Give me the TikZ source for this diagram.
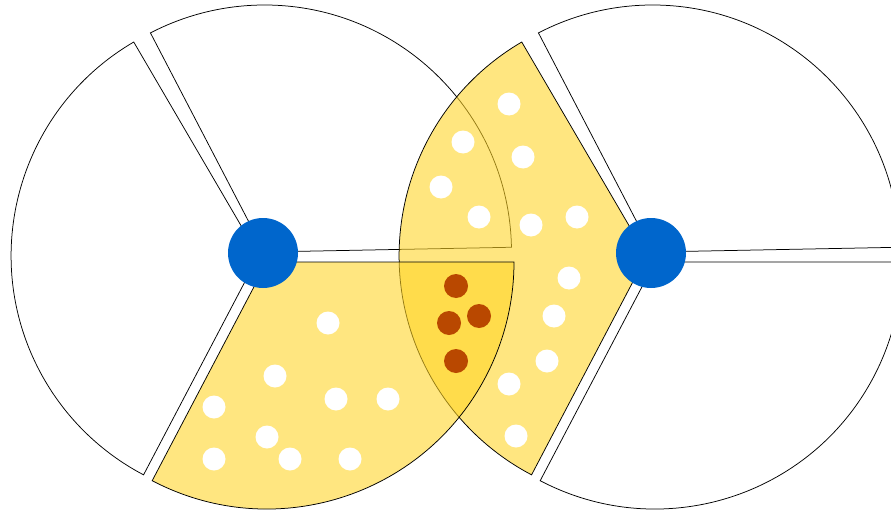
\documentclass[tikz,border=0pt]{standalone}
\usepackage{tikz}
\usetikzlibrary{positioning}
\definecolor{secyellow}{RGB}{255,212,36}
\definecolor{hubblue}{RGB}{0,102,204}
\definecolor{seedbrown}{RGB}{185,72,0}

\begin{document}
\begin{tikzpicture}[
  x=1pt, y=-1pt,
  % --- Styles ---
  sec/.style={draw=black, line width=0.75pt, fill=white},
  hotsec/.style={draw=black, line width=0.75pt, fill=secyellow, fill opacity=0.58},
  hub/.style={circle, fill=hubblue, minimum size=70pt, inner sep=0pt},
  wdot/.style={circle, fill=white, minimum size=23pt, inner sep=0pt},
  bdot/.style={circle, fill=seedbrown, minimum size=24pt, inner sep=0pt},
]
\useasboundingbox (0,0) rectangle (891,511);
\clip (0,0) rectangle (891,511);

% === LEFT DISC ===
\filldraw[sec] (264.5,252) -- ++(-1.1:247)
  arc[start angle=-1.1, end angle=-117.5, radius=247] -- cycle;
\filldraw[sec] (258.6,255.7) -- ++(-120.3:247.5)
  arc[start angle=-120.3, end angle=-242.3, radius=247.5] -- cycle;

% === RIGHT DISC ===
\filldraw[sec] (652.5,252) -- ++(-1.1:247)
  arc[start angle=-1.1, end angle=-117.5, radius=247] -- cycle;
\filldraw[sec] (655,262) -- ++(-242.3:247)
  arc[start angle=-242.3, end angle=-360, radius=247] -- cycle;
\filldraw[hotsec] (646.6,255.7) -- ++(-120.3:247.5)
  arc[start angle=-120.3, end angle=-242.3, radius=247.5] -- cycle;

% left disc, lower sector (overlaps the right one)
\filldraw[hotsec] (267,262) -- ++(-242.3:247)
  arc[start angle=-242.3, end angle=-360, radius=247] -- cycle;

% === DOTS ===
\foreach \x/\y [count=\i] in {328/323, 275/376, 214/407, 336/399, 388/399,
    267/437, 214/459, 290/459, 350/459}
  \node[wdot] (wl\i) at (\x,\y) {};
\foreach \x/\y [count=\i] in {509/104, 463/142, 523/157, 441/187, 479/217,
    531/225, 577/217, 569/278, 554/316, 547/361, 509/384, 516/436}
  \node[wdot] (wr\i) at (\x,\y) {};
\foreach \x/\y [count=\i] in {456/286, 449/323, 479/316, 456/361}
  \node[bdot] (b\i) at (\x,\y) {};

% === HUBS ===
\node[hub] (hubL) at (263,253) {};
\node[hub] (hubR) at (651,253) {};
\end{tikzpicture}
\end{document}
